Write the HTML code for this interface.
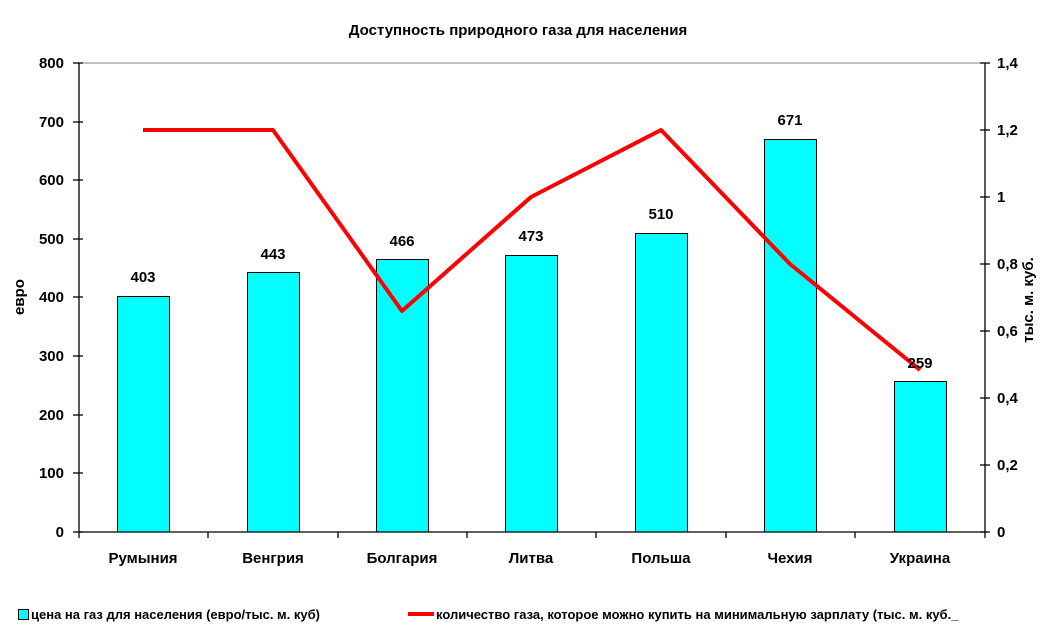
<!DOCTYPE html>
<html><head><meta charset="utf-8"><style>body{margin:0;background:#fff}svg{display:block}text{font-family:"Liberation Sans",Arial,sans-serif;font-weight:bold;fill:#000}</style></head><body>
<svg width="1044" height="638" viewBox="0 0 1044 638" xmlns="http://www.w3.org/2000/svg">
<text x="518" y="35" font-size="15" text-anchor="middle">Доступность природного газа для населения</text>
<line x1="79" y1="63" x2="985" y2="63" stroke="#808080" stroke-width="1"/>
<g fill="#00ffff" stroke="#000" stroke-width="1">
<rect x="117.5" y="296.5" width="52" height="235.5"/>
<rect x="247.5" y="272.5" width="52" height="259.5"/>
<rect x="376.5" y="259.5" width="52" height="272.5"/>
<rect x="505.5" y="255.5" width="52" height="276.5"/>
<rect x="635.5" y="233.5" width="52" height="298.5"/>
<rect x="764.5" y="139.5" width="52" height="392.5"/>
<rect x="894.5" y="381.5" width="52" height="150.5"/>
</g>
<g stroke="#000" stroke-width="1.3">
<line x1="79" y1="63" x2="79" y2="532"/>
<line x1="985" y1="63" x2="985" y2="532"/>
<line x1="79" y1="532" x2="985" y2="532"/>
<line x1="73" y1="63" x2="83" y2="63"/><line x1="73" y1="122" x2="83" y2="122"/><line x1="73" y1="180" x2="83" y2="180"/><line x1="73" y1="239" x2="83" y2="239"/><line x1="73" y1="297" x2="83" y2="297"/><line x1="73" y1="356" x2="83" y2="356"/><line x1="73" y1="415" x2="83" y2="415"/><line x1="73" y1="473" x2="83" y2="473"/><line x1="73" y1="532" x2="83" y2="532"/>
<line x1="980" y1="63" x2="990" y2="63"/><line x1="980" y1="130" x2="990" y2="130"/><line x1="980" y1="197" x2="990" y2="197"/><line x1="980" y1="264" x2="990" y2="264"/><line x1="980" y1="331" x2="990" y2="331"/><line x1="980" y1="398" x2="990" y2="398"/><line x1="980" y1="465" x2="990" y2="465"/><line x1="980" y1="532" x2="990" y2="532"/>
<line x1="79" y1="532" x2="79" y2="538"/><line x1="208" y1="532" x2="208" y2="538"/><line x1="338" y1="532" x2="338" y2="538"/><line x1="467" y1="532" x2="467" y2="538"/><line x1="596" y1="532" x2="596" y2="538"/><line x1="726" y1="532" x2="726" y2="538"/><line x1="855" y1="532" x2="855" y2="538"/><line x1="985" y1="532" x2="985" y2="538"/>
</g>
<g font-size="15" text-anchor="end">
<text x="64" y="68">800</text><text x="64" y="127">700</text><text x="64" y="185">600</text><text x="64" y="244">500</text><text x="64" y="302">400</text><text x="64" y="361">300</text><text x="64" y="420">200</text><text x="64" y="478">100</text><text x="64" y="537">0</text>
</g>
<g font-size="15">
<text x="997" y="68">1,4</text><text x="997" y="135">1,2</text><text x="997" y="202">1</text><text x="997" y="269">0,8</text><text x="997" y="336">0,6</text><text x="997" y="403">0,4</text><text x="997" y="470">0,2</text><text x="997" y="537">0</text>
</g>
<text transform="translate(24,297) rotate(-90)" font-size="15" text-anchor="middle">евро</text>
<text transform="translate(1033,300) rotate(-90)" font-size="15" text-anchor="middle">тыс. м. куб.</text>
<g font-size="15" text-anchor="middle">
<text x="143" y="282">403</text><text x="273" y="259">443</text><text x="402" y="246">466</text><text x="531" y="241">473</text><text x="661" y="219">510</text><text x="790" y="125">671</text>
</g>
<g font-size="15" text-anchor="middle">
<text x="143" y="563">Румыния</text><text x="273" y="563">Венгрия</text><text x="402" y="563">Болгария</text><text x="531" y="563">Литва</text><text x="661" y="563">Польша</text><text x="790" y="563">Чехия</text><text x="920" y="563">Украина</text>
</g>
<polyline points="143,130 273,130 402,311 531,197 661,130 790,264 920,370" fill="none" stroke="#ff0000" stroke-width="4" stroke-linejoin="round"/>
<text x="920" y="368" font-size="15" text-anchor="middle">259</text>
<rect x="18.5" y="609.5" width="10" height="10" fill="#00ffff" stroke="#000"/>
<text x="31" y="619" font-size="13" font-weight="normal">цена на газ для населения (евро/тыс. м. куб)</text>
<line x1="408" y1="614" x2="434" y2="614" stroke="#ff0000" stroke-width="4"/>
<text x="436" y="619" font-size="13" font-weight="normal">количество газа, которое можно купить на минимальную зарплату (тыс. м. куб._</text>
</svg>
</body></html>
